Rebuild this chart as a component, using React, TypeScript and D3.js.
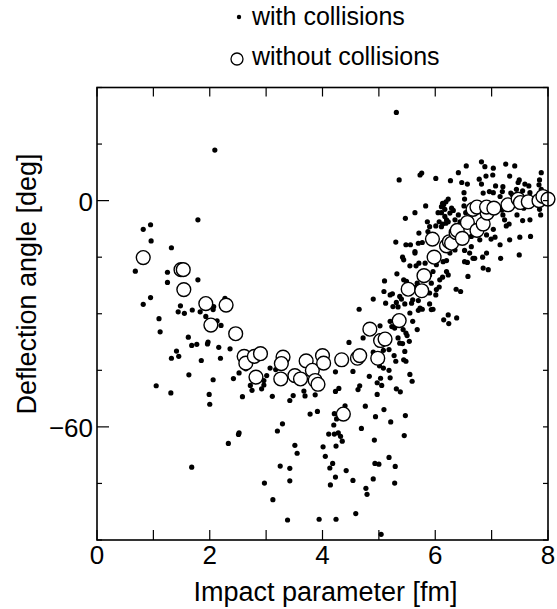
import { useEffect, useRef } from 'react';
import * as d3 from 'd3';

// [impact parameter (fm), deflection angle (deg)]
const withCollisions: [number, number][] = [
  [0.82, -7.6], [0.95, -6.4], [0.96, -10.7], [1.79, -5.1], [2.09, 13.4], [1.32, -12.5], [0.68, -18.7], [1.25, -19.0],
  [1.25, -21.7], [1.79, -21.0], [0.95, -25.7], [0.82, -27.5], [1.10, -31.3], [1.12, -34.8], [1.48, -27.9], [1.44, -29.5],
  [1.55, -29.9], [1.69, -29.0], [1.83, -29.5], [1.93, -30.7], [2.06, -28.9], [2.07, -28.1], [2.27, -25.9], [2.13, -31.9],
  [2.20, -33.1], [1.62, -36.2], [1.68, -38.4], [1.77, -38.1], [1.97, -37.5], [1.96, -38.0], [2.16, -38.9], [2.36, -39.3],
  [1.05, -49.1], [1.31, -51.0], [1.32, -41.8], [1.41, -39.9], [1.45, -41.3], [1.63, -46.2], [1.85, -42.4], [2.19, -41.8],
  [2.06, -47.5], [1.99, -51.4], [2.00, -54.0], [1.68, -70.7], [2.33, -64.4], [2.51, -62.0], [2.52, -61.6], [2.42, -47.2],
  [2.52, -45.7], [2.58, -52.0], [2.64, -44.6], [2.72, -49.0], [2.75, -50.3], [2.92, -49.9], [2.96, -47.7], [2.96, -48.9],
  [3.01, -46.4], [3.07, -44.4], [2.97, -74.9], [3.11, -51.9], [3.12, -79.3], [3.20, -61.1], [3.29, -59.2], [3.25, -70.4],
  [3.38, -84.7], [3.42, -71.0], [3.42, -74.3], [3.51, -64.9], [3.55, -67.0], [3.42, -53.0], [3.48, -51.7], [3.67, -50.5],
  [3.69, -51.8], [3.78, -56.6], [3.17, -44.8], [3.87, -51.5], [3.91, -55.9], [4.23, -45.4], [4.23, -50.6], [4.29, -49.8],
  [4.21, -56.5], [4.20, -59.5], [4.25, -57.9],
  [4.63, -50.1], [4.66, -49.1], [4.97, -48.3], [5.05, -49.0], [4.97, -51.4], [5.31, -49.9], [5.38, -50.7], [5.59, -47.9],
  [4.40, -54.4], [4.76, -54.5], [5.09, -55.4], [4.94, -57.3], [5.21, -58.7], [5.47, -57.0], [4.69, -60.4], [4.11, -61.9],
  [4.21, -61.9], [4.28, -61.6], [4.32, -62.5], [4.35, -63.8], [4.92, -63.5], [5.45, -62.3], [4.01, -65.3], [4.24, -65.1],
  [4.05, -67.8], [4.18, -69.7], [4.13, -70.9], [4.93, -69.7], [5.00, -69.9], [5.18, -68.1], [5.29, -70.5], [4.42, -71.6],
  [4.23, -73.3], [4.14, -75.4], [4.54, -74.2], [4.90, -73.8], [5.28, -74.9], [4.77, -76.3], [4.79, -77.9], [4.59, -83.0],
  [3.94, -84.5], [4.24, -84.5], [5.04, -88.5],
  [5.10, -21.3], [4.90, -26.1], [4.65, -28.8], [5.09, -24.1], [5.24, -24.7], [5.12, -27.2], [5.31, -27.0], [5.40, -26.1],
  [5.37, -25.4], [5.46, -27.4], [5.58, -27.2], [5.70, -26.5], [5.73, -28.5], [5.70, -29.1], [5.90, -27.4], [5.96, -28.8],
  [5.55, -29.8], [5.60, -32.0], [5.20, -32.0], [5.02, -33.2], [5.23, -33.4], [5.28, -33.8], [5.43, -34.2], [5.48, -35.1],
  [5.50, -35.8], [5.68, -34.2], [5.54, -37.3], [5.34, -36.4], [5.37, -37.8], [4.72, -36.4], [4.47, -37.6], [5.02, -35.8],
  [4.90, -40.2], [5.27, -41.1], [5.30, -42.6], [5.44, -42.2], [5.48, -42.6], [5.46, -40.0], [5.08, -44.4], [5.18, -45.0],
  [4.83, -46.6], [5.03, -47.1], [5.20, -47.0], [5.55, -46.1], [4.54, -45.3], [5.90, -24.5], [6.01, -25.0], [5.93, -21.9],
  [6.15, -31.6], [6.24, -32.6], [5.42, -37.9], [5.18, -39.5], [5.08, -39.7], [5.05, -42.6], [5.01, -43.8],
  [5.30, -11.0], [5.47, -4.7], [5.64, -3.2], [5.83, -1.4], [6.11, -1.6], [6.15, -1.0], [6.05, -3.2], [5.86, -5.6],
  [6.07, -5.6], [6.11, -6.9], [5.90, -6.9], [6.01, -6.7], [5.71, -8.6], [5.87, -8.2], [6.17, -4.2], [6.26, -3.3],
  [6.29, -2.0], [6.32, -2.6], [6.41, -3.8], [6.23, -5.6], [6.19, -6.0], [5.48, -11.7], [5.56, -11.7], [5.70, -11.3],
  [5.77, -11.1], [5.64, -13.5], [5.64, -13.9], [5.42, -15.0], [5.44, -15.7], [5.55, -17.3], [5.66, -17.3], [5.71, -16.6],
  [5.82, -16.6], [6.02, -17.0], [6.14, -16.2], [6.20, -15.9], [6.26, -13.9], [6.35, -13.1], [6.52, -13.2], [6.61, -13.9],
  [6.64, -12.2], [6.52, -16.2], [6.57, -16.4], [6.70, -15.3], [6.47, -9.5], [6.41, -7.3], [6.79, -10.4], [6.91, -9.1],
  [6.91, -13.9], [6.58, -20.1], [5.32, -19.4], [5.44, -21.0], [5.49, -21.4], [5.90, -19.7], [5.96, -18.8], [6.08, -21.0],
  [6.13, -20.3], [6.23, -19.7], [6.20, -18.8], [6.02, -23.6], [6.07, -22.9], [6.37, -23.5], [6.45, -24.1], [5.68, -21.9],
  [5.66, -22.9], [5.20, -25.0], [5.25, -28.1], [5.34, -28.2], [5.77, -28.8], [5.60, -26.3], [6.85, -17.9], [6.94, -18.3],
  [6.82, 10.3], [6.88, 9.0], [7.03, 8.6], [7.25, 9.7], [7.41, 9.2], [6.55, 9.2], [6.41, 7.4], [6.27, 5.3],
  [6.47, 4.8], [6.57, 4.4], [6.78, 5.7], [6.82, 4.4], [7.02, 6.8], [6.90, 6.5], [7.07, 3.9], [7.32, 6.5],
  [7.49, 5.5], [7.47, 4.8], [7.59, 4.4], [7.66, 3.9], [7.85, 5.5], [7.84, 4.2], [7.88, 7.4], [7.88, 3.0],
  [7.68, 2.1], [7.55, 2.6], [7.44, 3.0], [7.34, 2.0], [7.37, 1.5], [7.20, 3.7], [7.19, 2.4], [6.51, 2.1],
  [6.52, 0.4], [6.85, 2.0], [6.96, 2.4], [7.03, 2.1], [7.15, 1.1], [6.23, 0.4], [6.19, -0.3], [6.13, -0.7],
  [6.51, -1.4], [6.54, -3.2], [6.11, -3.2], [6.17, -2.3], [6.20, -5.1], [6.13, -6.2], [6.35, -5.1], [6.44, -5.6],
  [7.18, -2.5], [7.20, -3.8], [7.23, -5.1], [7.31, -6.2], [7.45, -3.8], [7.55, -5.3], [7.68, -5.1], [7.87, -3.8],
  [7.50, -9.7], [7.69, -9.5], [7.03, -7.6], [7.06, -9.7], [6.64, -9.5], [7.57, -2.0], [7.85, -2.3],
  [6.01, 5.9], [5.76, 7.3], [5.73, 6.8], [5.36, 5.5], [5.31, 23.4], [7.16, -15.3], [7.49, -14.4], [7.32, -10.4],
  [7.15, -11.7], [6.84, -15.0], [6.67, -15.3], [6.99, -10.2], [7.26, -6.7], [6.23, -30.3], [6.38, -31.1], [5.93, -28.9],
];

const withoutCollisions: [number, number][] = [
  [0.82, -15.1], [1.49, -18.3], [1.53, -18.3], [1.54, -23.6], [1.93, -27.3], [2.29, -27.7], [2.02, -33.0], [2.46, -35.3],
  [2.61, -41.3], [2.64, -43.1], [2.79, -41.3], [2.90, -40.6], [2.82, -46.8], [3.30, -41.5], [3.27, -43.2], [3.26, -47.3],
  [3.51, -46.4], [3.61, -47.3], [3.71, -42.5], [3.82, -45.0], [4.00, -41.1], [4.02, -43.1], [3.87, -47.7], [3.92, -48.7],
  [4.34, -42.2], [4.37, -56.6], [4.62, -41.8], [4.66, -41.1], [4.98, -41.8], [4.84, -34.1], [5.03, -37.1], [5.11, -36.7],
  [5.36, -31.8], [5.52, -23.5], [5.76, -23.9], [5.80, -19.9], [5.98, -15.0], [5.95, -10.2], [6.20, -12.0], [6.25, -10.9],
  [6.29, -11.3], [6.37, -8.5], [6.39, -7.9], [6.48, -10.0], [6.57, -5.8], [6.67, -2.3], [6.74, -7.9], [6.85, -6.2],
  [6.74, -1.7], [6.92, -3.3], [6.91, -1.7], [7.04, -2.0], [7.29, -1.1], [7.47, 0.4], [7.51, -0.5], [7.65, -0.3],
  [7.84, 0.0], [7.91, 1.1], [8.0, 0.4],
];

const xTicks = [0, 1, 2, 3, 4, 5, 6, 7, 8];
const xTickLabels = ['0', '', '2', '', '4', '', '6', '', '8'];
const yTicks = [30, 15, 0, -15, -30, -45, -60, -75, -90];
const yLabelled: Record<number, string> = { 0: '0', [-60]: '\u221260' };

const legendLabels = ['with collisions', 'without collisions'];
const xTitle = 'Impact parameter [fm]';
const yTitle = 'Deflection angle [deg]';

const W = 557;
const H = 609;
const FONT = '"Liberation Sans", Arial, Helvetica, sans-serif';

export default function App() {
  const svgRef = useRef<SVGSVGElement>(null);

  useEffect(() => {
    if (!svgRef.current) return;
    const svg = d3.select(svgRef.current);
    svg.selectAll('*').remove();

    const left = 97, right = 548, top = 87.5, bottom = 540;
    const x = d3.scaleLinear().domain([0, 8]).range([left, right]);
    const y = d3.scaleLinear().domain([-90, 30]).range([bottom, top]);

    const g = svg.append('g');

    // points with collisions (small filled dots)
    g.selectAll('.dot')
      .data(withCollisions)
      .enter()
      .append('circle')
      .attr('cx', d => x(d[0]))
      .attr('cy', d => y(d[1]))
      .attr('r', 2.6)
      .attr('fill', '#000');

    // points without collisions (open circles drawn on top)
    g.selectAll('.open')
      .data(withoutCollisions)
      .enter()
      .append('circle')
      .attr('cx', d => x(d[0]))
      .attr('cy', d => y(d[1]))
      .attr('r', 6.9)
      .attr('fill', '#fff')
      .attr('stroke', '#000')
      .attr('stroke-width', 1.4);

    // frame
    g.append('rect')
      .attr('x', left).attr('y', top)
      .attr('width', right - left).attr('height', bottom - top)
      .attr('fill', 'none').attr('stroke', '#000').attr('stroke-width', 1.6);

    // x ticks, inward on bottom and top
    xTicks.forEach(t => {
      g.append('line').attr('x1', x(t)).attr('x2', x(t)).attr('y1', bottom).attr('y2', bottom - 10)
        .attr('stroke', '#000').attr('stroke-width', 1.2);
      g.append('line').attr('x1', x(t)).attr('x2', x(t)).attr('y1', top).attr('y2', top + 9)
        .attr('stroke', '#000').attr('stroke-width', 1.2);
    });
    g.selectAll('.xl')
      .data(xTicks.filter((_, i) => xTickLabels[i] !== ''))
      .enter()
      .append('text')
      .attr('x', d => x(d))
      .attr('y', 564)
      .attr('text-anchor', 'middle')
      .attr('font-family', FONT)
      .attr('font-size', 26)
      .text(d => xTickLabels[xTicks.indexOf(d)]);

    // y ticks, inward on left and right
    yTicks.forEach(t => {
      const long = yLabelled[t] !== undefined;
      g.append('line').attr('x1', left).attr('x2', left + (long ? 12 : 5)).attr('y1', y(t)).attr('y2', y(t))
        .attr('stroke', '#000').attr('stroke-width', 1.2);
      g.append('line').attr('x1', right).attr('x2', right - 5).attr('y1', y(t)).attr('y2', y(t))
        .attr('stroke', '#000').attr('stroke-width', 1.2);
    });
    g.selectAll('.yl')
      .data(yTicks.filter(t => yLabelled[t] !== undefined))
      .enter()
      .append('text')
      .attr('x', 93)
      .attr('y', d => y(d) + 10)
      .attr('text-anchor', 'end')
      .attr('font-family', FONT)
      .attr('font-size', 26)
      .text(d => yLabelled[d]);

    // axis titles
    g.append('text')
      .attr('x', (left + right) / 2 + 3)
      .attr('y', 601)
      .attr('text-anchor', 'middle')
      .attr('font-family', FONT)
      .attr('font-size', 27)
      .text(xTitle);
    g.append('text')
      .attr('transform', 'translate(36,284) rotate(-90)')
      .attr('text-anchor', 'middle')
      .attr('font-family', FONT)
      .attr('font-size', 27)
      .text(yTitle);

    // legend
    const legend = svg.append('g');
    legend.append('circle').attr('cx', 239).attr('cy', 17).attr('r', 2.2).attr('fill', '#000');
    legend.append('circle').attr('cx', 237).attr('cy', 59).attr('r', 6)
      .attr('fill', '#fff').attr('stroke', '#000').attr('stroke-width', 1.3);
    legend.selectAll('text')
      .data(legendLabels)
      .enter()
      .append('text')
      .attr('x', 252)
      .attr('y', (_, i) => 25 + i * 40)
      .attr('font-family', FONT)
      .attr('font-size', 25)
      .text(d => d);
  }, []);

  return (
    <svg
      ref={svgRef}
      width={W}
      height={H}
      style={{ position: 'absolute', left: 0, top: 0, background: '#fff' }}
    />
  );
}
